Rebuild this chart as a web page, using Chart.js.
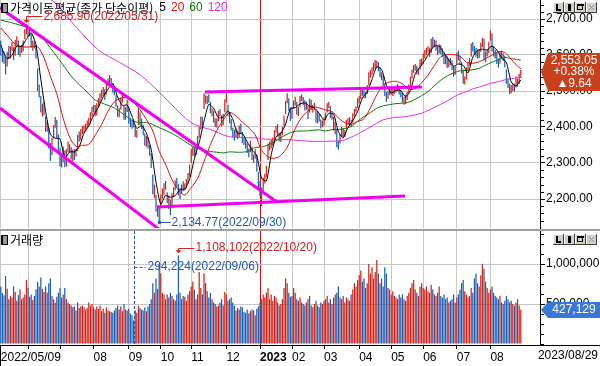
<!DOCTYPE html>
<html lang="ko">
<head>
<meta charset="utf-8">
<title>가격이동평균 / 거래량</title>
<script src="https://cdn.jsdelivr.net/npm/chart.js@4.4.0/dist/chart.umd.min.js"></script>
<style>
  html, body { margin: 0; padding: 0; background: #fff; }
  #wrap { position: relative; width: 600px; height: 366px; overflow: hidden; background: #fff; }
  #price { position: absolute; left: 0; top: 0; }
  #vol { position: absolute; left: 0; top: 231px; }
</style>
</head>
<body>
<div id="wrap">
  <canvas id="price" width="600" height="231"></canvas>
  <canvas id="vol" width="600" height="135"></canvas>
</div>
<script>
// daily bars, 2022/05/09 .. 2023/08/29 (index = trading day)
const closes = [
  2610,2596,2592,2550,2604,2596,2620,2625,2592,2639, 2647,2606,2617,2612,2638,2669,2685,2658,2670,2626,
  2626,2625,2595,2504,2492,2447,2451,2440,2391,2408, 2342,2314,2366,2401,2422,2377,2332,2305,2300,2341,
  2292,2334,2350,2340,2317,2328,2322,2330,2375,2370, 2386,2393,2393,2403,2412,2415,2435,2451,2452,2439,
  2461,2473,2490,2493,2503,2480,2523,2527,2533,2516, 2508,2492,2462,2435,2447,2477,2481,2426,2450,2472,
  2415,2409,2403,2410,2376,2384,2449,2411,2401,2382, 2355,2367,2347,2332,2290,2220,2223,2169,2170,2155,
  2209,2215,2237,2232,2192,2202,2162,2212,2219,2249, 2237,2218,2213,2236,2235,2235,2246,2268,2293,2335,
  2336,2329,2348,2371,2399,2424,2402,2484,2474,2480, 2477,2442,2444,2419,2406,2418,2441,2437,2408,2433,
  2473,2479,2434,2419,2393,2382,2371,2389,2373,2399, 2389,2361,2360,2352,2333,2328,2356,2313,2317,2332,
  2280,2236,2225,2218,2255,2264,2289,2350,2351,2359, 2365,2386,2399,2379,2368,2380,2395,2428,2468,2484,
  2450,2425,2449,2468,2480,2438,2451,2483,2481,2469, 2453,2465,2427,2475,2451,2455,2458,2417,2439,2423,
  2402,2412,2421,2432,2462,2463,2431,2432,2394,2410, 2349,2348,2377,2395,2379,2388,2416,2416,2415,2409,
  2434,2443,2453,2476,2480,2500,2495,2490,2490,2512, 2547,2550,2561,2571,2575,2576,2563,2544,2544,2523,
  2490,2484,2495,2501,2500,2500,2501,2509,2510,2496, 2491,2475,2479,2480,2494,2515,2537,2557,2566,2567,
  2554,2559,2585,2577,2601,2601,2615,2615,2601,2641, 2629,2637,2619,2608,2625,2609,2604,2582,2593,2570,
  2582,2581,2564,2550,2564,2602,2593,2579,2556,2526, 2534,2562,2574,2585,2628,2619,2609,2608,2600,2609,
  2629,2636,2593,2603,2608,2632,2667,2616,2605,2602, 2580,2573,2605,2601,2591,2571,2525,2519,2504,2508,
  2515,2505,2537,2519,2543.41,2553.05
];
const lows = [
  2598,2580,2576,2546,2568,2588,2590,2611,2586,2598, 2628,2600,2595,2606,2610,2644,2657,2650,2652,2620,
  2612,2618,2590,2500,2482,2440,2429,2432,2387,2387, 2340,2306,2322,2368,2398,2368,2326,2291,2288,2303,
  2288,2290,2330,2328,2310,2304,2308,2318,2333,2360, 2364,2380,2384,2388,2396,2405,2410,2430,2441,2430,
  2432,2456,2465,2480,2487,2475,2490,2513,2519,2509, 2495,2488,2456,2428,2427,2448,2468,2420,2420,2442,
  2410,2400,2395,2399,2372,2370,2405,2405,2394,2377, 2348,2345,2340,2320,2286,2213,2202,2165,2151,2134.77,
  2176,2201,2212,2226,2188,2172,2155,2180,2205,2224, 2231,2210,2200,2214,2222,2224,2230,2243,2262,2300,
  2320,2318,2322,2345,2370,2393,2396,2450,2465,2463, 2468,2438,2430,2412,2400,2398,2416,2430,2402,2405,
  2440,2468,2430,2410,2390,2370,2362,2370,2366,2370, 2382,2355,2350,2340,2328,2316,2330,2308,2300,2312,
  2276,2230,2208,2180,2215,2243,2260,2308,2335,2340, 2348,2356,2384,2374,2360,2358,2378,2402,2436,2466,
  2445,2417,2423,2450,2460,2434,2430,2455,2472,2461, 2446,2448,2422,2440,2447,2440,2447,2412,2410,2415,
  2396,2400,2404,2418,2440,2452,2425,2420,2390,2380, 2344,2337,2354,2372,2370,2372,2394,2406,2404,2400,
  2412,2430,2440,2452,2466,2478,2487,2480,2480,2492, 2515,2537,2545,2555,2562,2565,2555,2538,2530,2516,
  2486,2470,2478,2488,2490,2486,2492,2496,2500,2490, 2482,2468,2462,2464,2475,2494,2512,2535,2550,2556,
  2546,2545,2560,2570,2575,2590,2600,2606,2594,2605, 2620,2622,2612,2600,2604,2602,2595,2575,2574,2564,
  2566,2572,2558,2540,2545,2575,2585,2572,2548,2520, 2518,2532,2558,2570,2595,2610,2600,2595,2590,2592,
  2608,2622,2585,2580,2596,2605,2640,2610,2596,2590, 2575,2565,2576,2592,2583,2566,2520,2508,2491,2494,
  2500,2498,2510,2512,2520,2536
];
const highs = [
  2640,2617,2610,2594,2609,2626,2624,2636,2622,2642, 2652,2640,2625,2628,2640,2672,2685.9,2679,2677,2660,
  2640,2638,2627,2563,2518,2487,2465,2471,2430,2415, 2398,2356,2370,2405,2428,2420,2379,2341,2322,2345,
  2335,2338,2360,2352,2344,2337,2339,2340,2378,2387, 2394,2403,2405,2409,2418,2426,2441,2456,2461,2461,
  2466,2480,2494,2503,2511,2505,2526,2535,2544,2536, 2521,2513,2488,2460,2452,2482,2492,2458,2455,2476,
  2454,2425,2418,2421,2404,2392,2452,2441,2424,2406, 2382,2375,2372,2350,2327,2268,2240,2212,2183,2178,
  2212,2229,2244,2250,2219,2209,2198,2216,2232,2252, 2258,2241,2230,2240,2249,2243,2255,2272,2296,2338,
  2345,2345,2353,2375,2402,2429,2428,2494,2488,2486, 2491,2470,2452,2445,2424,2424,2445,2450,2433,2436,
  2477,2494,2462,2440,2422,2398,2392,2396,2390,2404, 2410,2386,2372,2365,2355,2340,2362,2346,2324,2339,
  2324,2275,2250,2232,2260,2270,2293,2354,2360,2364, 2371,2391,2403,2408,2385,2386,2401,2432,2472,2494,
  2480,2455,2454,2474,2484,2470,2456,2486,2490,2483, 2474,2470,2460,2479,2476,2462,2467,2448,2443,2437,
  2421,2418,2427,2440,2466,2470,2458,2440,2428,2414, 2395,2362,2381,2400,2396,2392,2420,2425,2427,2420,
  2438,2450,2457,2480,2486,2504,2508,2502,2497,2517, 2552,2558,2566,2578,2586,2584,2580,2566,2552,2545,
  2520,2497,2500,2508,2512,2506,2511,2515,2520,2514, 2502,2494,2484,2490,2498,2518,2540,2560,2572,2575,
  2570,2564,2588,2590,2604,2614,2620,2625,2620,2645, 2650,2643,2640,2624,2630,2628,2618,2606,2598,2596,
  2590,2592,2585,2570,2568,2606,2612,2598,2580,2560, 2540,2566,2580,2592,2632,2636,2625,2620,2615,2615,
  2634,2648,2645,2610,2616,2637,2668,2660,2624,2614, 2606,2590,2610,2612,2605,2598,2560,2535,2520,2516,
  2523,2520,2540,2534,2548,2558
];
const volumes = [
  720e3,640e3,610e3,850e3,690e3,560e3,600e3,580e3,720e3,650e3,540e3,610e3,680e3,560e3,580e3,620e3,800e3,
  700e3,590e3,620e3,550e3,600e3,680e3,780e3,720e3,830e3,690e3,650e3,720e3,640e3,760e3,820e3,600e3,560e3,520e3,590e3,640e3,
  700e3,580e3,620e3,700e3,560e3,520e3,500e3,480e3,460e3,470e3,420e3,520e3,450e3,470e3,480e3,460e3,430e3,450e3,520e3,480e3,500e3,
  460e3,430e3,470e3,440e3,480e3,410e3,440e3,390e3,460e3,420e3,410e3,400e3,390e3,420e3,450e3,480e3,430e3,470e3,410e3,500e3,430e3,420e3,
  440e3,380e3,360e3,294224,420e3,390e3,480e3,450e3,430e3,420e3,460e3,410e3,470e3,500e3,560e3,760e3,640e3,820e3,690e3,1000e3,
  880e3,640e3,620e3,560e3,620e3,580e3,640e3,600e3,560e3,540e3,620e3,1108102,640e3,560e3,600e3,590e3,540e3,620e3,660e3,
  720e3,780e3,680e3,560e3,620e3,900e3,700e3,620e3,880e3,760e3,660e3,580e3,640e3,560e3,520e3,500e3,470e3,480e3,520e3,560e3,480e3,650e3,
  620e3,540e3,560e3,580e3,520e3,480e3,420e3,450e3,430e3,470e3,460e3,400e3,390e3,430e3,380e3,410e3,430e3,420e3,360e3,440e3,470e3,
  520e3,560e3,620e3,580e3,640e3,700e3,560e3,620e3,540e3,600e3,580e3,520e3,480e3,500e3,560e3,700e3,820e3,760e3,640e3,590e3,
  600e3,700e3,640e3,560e3,540e3,580e3,520e3,500e3,480e3,520e3,560e3,600e3,480e3,460e3,500e3,540e3,480e3,460e3,520e3,500e3,
  540e3,560e3,600e3,520e3,560e3,500e3,580e3,620e3,640e3,720e3,580e3,560e3,600e3,520e3,580e3,560e3,540e3,620e3,680e3,760e3,720e3,800e3,
  860e3,920e3,780e3,820e3,700e3,760e3,1000e3,880e3,960e3,820e3,900e3,1050e3,880e3,760e3,820e3,720e3,960e3,880e3,700e3,680e3,
  620e3,660e3,600e3,580e3,560e3,620e3,580e3,620e3,560e3,540e3,600e3,640e3,700e3,760e3,800e3,680e3,640e3,600e3,720e3,760e3,
  700e3,680e3,720e3,660e3,640e3,740e3,680e3,620e3,600e3,640e3,720e3,600e3,580e3,620e3,560e3,580e3,520e3,540e3,560e3,620e3,520e3,
  580e3,620e3,680e3,760e3,800e3,660e3,620e3,580e3,600e3,700e3,640e3,820e3,880e3,760e3,720e3,860e3,1000e3,940e3,780e3,700e3,640e3,
  680e3,720e3,640e3,600e3,580e3,560e3,600e3,520e3,500e3,540e3,600e3,560e3,520e3,540e3,500e3,480e3,520e3,560e3,480e3,427129
];

// moving averages: [day index, value]
const ma5 = [[0,2628],[2,2605],[4,2590],[7,2599],[10,2625],[13,2624],[16,2644],[19,2662],[22,2628],[25,2533],[28,2444],[31,2379],[34,2369],[37,2367],[40,2314],[43,2331],[46,2331],[49,2345],[52,2383],[55,2403],[58,2433],[61,2455],[64,2484],[67,2505],[70,2521],[73,2483],[76,2460],[79,2461],[82,2430],[85,2396],[88,2404],[91,2383],[94,2338],[97,2247],[100,2185],[103,2210],[106,2205],[109,2209],[112,2227],[115,2227],[118,2255],[121,2312],[124,2357],[127,2416],[130,2463],[133,2452],[136,2426],[139,2427],[142,2445],[145,2421],[148,2382],[151,2382],[154,2359],[157,2336],[160,2320],[163,2258],[166,2250],[169,2323],[172,2372],[175,2382],[178,2408],[181,2451],[184,2454],[187,2464],[190,2467],[193,2458],[196,2453],[199,2438],[202,2419],[205,2438],[208,2436],[211,2387],[214,2370],[217,2399],[220,2418],[223,2443],[226,2481],[229,2497],[232,2532],[235,2567],[238,2560],[241,2517],[244,2494],[247,2502],[250,2501],[253,2484],[256,2501],[259,2548],[262,2566],[265,2585],[268,2607],[271,2625],[274,2624],[277,2606],[280,2586],[283,2569],[286,2575],[289,2571],[292,2550],[295,2594],[298,2613],[301,2616],[304,2614],[307,2625],[310,2614],[313,2592],[316,2579],[319,2525],[322,2514],[325,2531]];
const ma20 = [[0,2675],[4,2655],[9,2630],[14,2622],[19,2623],[23,2623],[27,2592],[31,2541],[35,2492],[39,2424],[43,2372],[47,2346],[51,2349],[55,2352],[59,2377],[63,2407],[67,2444],[71,2470],[75,2480],[79,2482],[83,2468],[87,2448],[91,2421],[95,2389],[99,2333],[103,2296],[107,2254],[111,2225],[115,2211],[119,2232],[123,2257],[127,2304],[131,2351],[135,2390],[139,2419],[143,2440],[147,2431],[151,2413],[155,2398],[159,2378],[163,2335],[167,2317],[171,2313],[175,2321],[179,2344],[183,2386],[187,2420],[191,2441],[195,2455],[199,2453],[203,2447],[207,2443],[211,2425],[215,2412],[219,2408],[223,2415],[227,2423],[231,2453],[235,2490],[239,2516],[243,2525],[247,2527],[251,2520],[255,2505],[259,2507],[263,2523],[267,2544],[271,2571],[275,2595],[279,2601],[283,2601],[287,2597],[291,2580],[295,2577],[299,2581],[303,2590],[307,2600],[311,2609],[315,2607],[319,2588],[323,2569],[325,2562]];
const ma60 = [[0,2697],[12,2683],[20,2669],[26,2647],[33,2608],[39,2572],[45,2536],[54,2497],[59,2475],[63,2467],[67,2460],[71,2453],[75,2441],[79,2428],[83,2416],[87,2412],[91,2413],[95,2407],[99,2398],[103,2391],[107,2382],[111,2372],[115,2360],[119,2349],[123,2341],[127,2335],[131,2332],[135,2330],[139,2328],[143,2331],[147,2330],[151,2330],[155,2333],[159,2343],[163,2344],[167,2350],[171,2359],[175,2370],[179,2380],[183,2387],[187,2389],[191,2389],[195,2391],[199,2392],[203,2389],[207,2393],[211,2393],[215,2396],[219,2401],[223,2416],[227,2429],[231,2440],[235,2452],[239,2459],[243,2462],[247,2465],[251,2466],[255,2469],[259,2477],[263,2487],[267,2498],[271,2515],[275,2530],[279,2542],[283,2550],[287,2556],[291,2557],[295,2559],[299,2563],[303,2572],[307,2580],[311,2587],[315,2593],[319,2590],[323,2587],[325,2586]];
const ma120 = [[15,2790],[25,2768],[34,2745],[46,2683],[61,2614],[74,2580],[87,2545],[99,2497],[112,2439],[119,2412],[123,2404],[127,2398],[131,2393],[135,2386],[139,2378],[143,2373],[147,2371],[151,2371],[155,2370],[159,2370],[163,2367],[167,2366],[171,2366],[175,2365],[179,2365],[183,2364],[187,2362],[191,2361],[195,2360],[199,2360],[203,2360],[207,2361],[211,2361],[215,2364],[219,2372],[223,2380],[227,2390],[231,2400],[235,2411],[239,2420],[243,2424],[247,2427],[251,2428],[255,2430],[259,2434],[263,2438],[267,2446],[271,2454],[275,2463],[279,2472],[283,2483],[287,2492],[291,2498],[295,2506],[299,2511],[303,2517],[307,2522],[311,2526],[315,2531],[319,2534],[323,2537],[325,2539]];

// hand-drawn trend lines (magenta)
const trendUpper = [[-0.5,2731],[172.6,2191.6]];
const trendLower = [[-0.5,2452.8],[99.5,2114]];
const supportLine = [[97.6,2177.8],[252.6,2208.3]];
const resistLine = [[127.6,2497.2],[263.2,2511]];

const monthTicks  = [0,17,37,58,80,100,119,141,162,182,202,224,244,264,285,306];
const monthLabels = ['2022/05/09','','','08','09','10','11','12','2023','02','03','04','05','06','07','08'];
const lastDate = '2023/08/29';
const markDates = {hi: '2022/05/31', lo: '2022/09/30', vmax: '2022/10/20', vmin: '2022/09/06'};
const maNames = ['5','20','60','120'];

Chart.defaults.font.family = '"Liberation Sans", "DejaVu Sans", sans-serif';
Chart.defaults.font.size = 12;
Chart.defaults.color = '#000';

const GRID = '#c8c8c8';
const YEAR_LINE = '#d01010';
const UP_COLOR = '#d0261e';
const DOWN_COLOR = '#1f5fb4';
const TREND = '#f000f0';
const MA_COLORS = ['#000000', '#dd1111', '#0c7c0c', '#e030e0'];
const RED_TXT = '#d02020';
const BLUE_TXT = '#2458b0';
const KR_FONT = '12px "Noto Sans CJK KR", sans-serif';
const NUM_FONT = '12px "Liberation Sans", "DejaVu Sans", sans-serif';
const BAR_W = 1.25;

const X_MIN = -0.5, X_MAX = 337;
const P_MAX = 2700 + 19 / 0.36, P_MIN = P_MAX - 228 / 0.36;
const V_MIN = -12500, V_MAX = 1412500;
const yearStart = monthTicks[monthLabels.indexOf('2023')];

const priceTicks = [];
for (let v = 2140; v <= 2740; v += 20) priceTicks.push(v);
const volTicks = [];
for (let v = 0; v <= 1375000; v += 125000) volTicks.push(v);

const barColors = closes.map((c, i) => (i > 0 && c >= closes[i - 1]) ? UP_COLOR : DOWN_COLOR);

function fmt(v, d) {
  return v.toLocaleString('en-US', {minimumFractionDigits: d, maximumFractionDigits: d});
}
const pts = arr => arr.map(p => ({x: p[0], y: p[1]}));

function lineDs(points, color, width, order, tension) {
  return {type: 'line', data: pts(points), borderColor: color, borderWidth: width,
          pointRadius: 0, tension: tension, order: order, clip: 0, fill: false};
}

function monthAxis(showLabels) {
  return {
    type: 'linear', min: X_MIN, max: X_MAX, offset: false,
    afterBuildTicks: s => { s.ticks = monthTicks.map(v => ({value: v})); },
    afterFit: s => { s.height = showLabels ? 21 : 0; s.paddingLeft = 0; s.paddingRight = 0; },
    border: {display: false},
    grid: {
      offset: false,
      color: c => (c.tick && c.tick.value === yearStart) ? YEAR_LINE : GRID,
      drawTicks: showLabels, tickLength: 4, tickColor: '#000'
    },
    ticks: showLabels ? {
      autoSkip: false, maxRotation: 0, minRotation: 0, align: 'start', padding: 1, color: '#000',
      font: c => ({size: 12, weight: monthLabels[c.index] === '2023' ? 'bold' : 'normal'}),
      callback: (v, i) => monthLabels[i]
    } : {display: false}
  };
}

function valueAxis(min, max, tickVals, isMajor, label) {
  return {
    position: 'right', min: min, max: max,
    afterBuildTicks: s => { s.ticks = tickVals.map(v => ({value: v})); },
    afterFit: s => { s.width = 60; s.paddingTop = 0; s.paddingBottom = 0; },
    border: {display: true, color: '#000', width: 1},
    grid: {
      color: c => isMajor(c.tick.value) ? GRID : 'rgba(0,0,0,0)',
      tickColor: c => isMajor(c.tick.value) ? '#000' : 'rgba(0,0,0,0)',
      tickLength: 5
    },
    ticks: {autoSkip: false, padding: 1, color: '#000', callback: v => isMajor(v) ? label(v) : ''}
  };
}

function seg(ctx, x1, y1, x2, y2) {
  ctx.beginPath(); ctx.moveTo(x1, y1); ctx.lineTo(x2, y2); ctx.stroke();
}

function panelTitle(ctx, text, cy) {
  ctx.fillStyle = '#000'; ctx.fillRect(1, cy - 5, 7, 10);
  ctx.fillStyle = '#9a9a9a'; ctx.fillRect(3, cy - 4, 4, 8);
  ctx.font = KR_FONT; ctx.textBaseline = 'middle'; ctx.textAlign = 'left'; ctx.fillStyle = '#000';
  ctx.fillText(text, 10, cy);
  return 10 + ctx.measureText(text).width;
}

function drawButtons(ctx, top) {
  const xs = [553, 564, 575, 586];
  ctx.lineWidth = 1;
  xs.forEach(bx => {
    ctx.fillStyle = '#d4d0c8'; ctx.fillRect(bx, top, 11, 11);
    ctx.strokeStyle = '#ffffff';
    seg(ctx, bx + 0.5, top + 10, bx + 0.5, top + 0.5); seg(ctx, bx + 0.5, top + 0.5, bx + 10, top + 0.5);
    ctx.strokeStyle = '#404040';
    seg(ctx, bx + 10.5, top, bx + 10.5, top + 11); seg(ctx, bx, top + 10.5, bx + 11, top + 10.5);
  });
  ctx.fillStyle = '#000';
  ctx.fillRect(xs[0] + 3, top + 2, 2, 7); ctx.fillRect(xs[0] + 3, top + 7, 5, 2);
  ctx.fillRect(xs[1] + 4, top + 2, 3, 7);
  ctx.strokeStyle = '#000'; ctx.strokeRect(xs[2] + 2.5, top + 2.5, 5, 5); ctx.fillRect(xs[2] + 2, top + 2, 7, 2);
  ctx.strokeStyle = '#909090';
  seg(ctx, xs[3] + 3, top + 3, xs[3] + 8, top + 8); seg(ctx, xs[3] + 8, top + 3, xs[3] + 3, top + 8);
}

function drawTag(ctx, cy, halfH, color, lines, gap) {
  ctx.fillStyle = color;
  ctx.beginPath();
  ctx.moveTo(541, cy); ctx.lineTo(548, cy - halfH); ctx.lineTo(600, cy - halfH);
  ctx.lineTo(600, cy + halfH); ctx.lineTo(548, cy + halfH); ctx.closePath(); ctx.fill();
  ctx.fillStyle = '#fff'; ctx.font = NUM_FONT; ctx.textAlign = 'center'; ctx.textBaseline = 'middle';
  lines.forEach((t, k) => ctx.fillText(t, 574, cy + (k - (lines.length - 1) / 2) * gap));
}

const priceDecor = {
  id: 'priceDecor',
  afterDraw(chart) {
    const {ctx, scales: {x, y}} = chart;
    ctx.save();
    ctx.lineWidth = 1; ctx.strokeStyle = '#000';
    priceTicks.filter(v => v % 100).forEach(v => {
      const py = Math.round(y.getPixelForValue(v)) + 0.5;
      seg(ctx, 541, py, 544, py);
    });
    ctx.fillStyle = '#a0a0a0'; ctx.fillRect(0, 229, 600, 2);

    // title + MA periods
    let tx = panelTitle(ctx, '가격이동평균(종가 단순이평)', 8) + 6;
    ctx.font = NUM_FONT;
    maNames.forEach((n, k) => {
      ctx.fillStyle = MA_COLORS[k]; ctx.fillText(n, tx, 8);
      tx += ctx.measureText(n).width + 5;
    });

    // highest high
    const hiVal = Math.max(...highs), hiIdx = highs.indexOf(hiVal);
    const hx = Math.round(x.getPixelForValue(hiIdx)) + 0.5, hy = y.getPixelForValue(hiVal);
    ctx.strokeStyle = RED_TXT; ctx.fillStyle = RED_TXT;
    seg(ctx, hx, hy - 3, hx, 16.5);
    seg(ctx, hx, 16.5, hx + 16, 16.5);
    ctx.beginPath(); ctx.moveTo(hx - 3, hy - 4); ctx.lineTo(hx + 3, hy - 4); ctx.lineTo(hx, hy - 1); ctx.closePath(); ctx.fill();
    ctx.textAlign = 'left'; ctx.textBaseline = 'middle';
    ctx.fillText(fmt(hiVal, 2) + '(' + markDates.hi + ')', hx + 17, 17);

    // lowest low
    const loVal = Math.min(...lows), loIdx = lows.indexOf(loVal);
    const lx = Math.round(x.getPixelForValue(loIdx)) + 0.5, ly = y.getPixelForValue(loVal);
    ctx.strokeStyle = BLUE_TXT; ctx.fillStyle = BLUE_TXT;
    ctx.beginPath(); ctx.arc(lx, ly, 1.8, 0, Math.PI * 2); ctx.fill();
    seg(ctx, lx, Math.round(ly) + 0.5, lx + 11, Math.round(ly) + 0.5);
    ctx.fillText(fmt(loVal, 2) + '(' + markDates.lo + ')', lx + 12, ly);

    // last price tag
    const last = closes[closes.length - 1], prev = closes[closes.length - 2];
    const chg = last - prev;
    drawTag(ctx, Math.round(y.getPixelForValue(last)), 19, '#c8401c',
      [fmt(last, 2), (chg >= 0 ? '+' : '') + fmt(chg / prev * 100, 2) + '%', (chg >= 0 ? '▲' : '▼') + fmt(Math.abs(chg), 2)], 11.5);

    drawButtons(ctx, 2);
    ctx.restore();
  }
};

const volDecor = {
  id: 'volDecor',
  afterDraw(chart) {
    const {ctx, scales: {x, y}, chartArea: a} = chart;
    ctx.save();
    ctx.lineWidth = 1; ctx.strokeStyle = '#000';
    volTicks.filter(v => !(v > 0 && v % 500000 === 0)).forEach(v => {
      const py = Math.round(y.getPixelForValue(v)) + 0.5;
      seg(ctx, 541, py, 544, py);
    });
    panelTitle(ctx, '거래량', 9);

    // lowest volume
    const vMin = Math.min(...volumes), vMinIdx = volumes.indexOf(vMin);
    const mx = Math.round(x.getPixelForValue(vMinIdx)) + 0.5;
    ctx.strokeStyle = BLUE_TXT; ctx.fillStyle = BLUE_TXT;
    ctx.setLineDash([3, 2]);
    seg(ctx, mx, a.top, mx, a.bottom);
    seg(ctx, mx, 36.5, mx + 11, 36.5);
    ctx.setLineDash([]);
    ctx.font = NUM_FONT; ctx.textAlign = 'left'; ctx.textBaseline = 'middle';
    ctx.fillText(fmt(vMin, 0) + '(' + markDates.vmin + ')', mx + 13, 36);

    // highest volume
    const vMax = Math.max(...volumes), vMaxIdx = volumes.indexOf(vMax);
    const vx = Math.round(x.getPixelForValue(vMaxIdx)) + 0.5, vy = y.getPixelForValue(vMax);
    ctx.strokeStyle = RED_TXT; ctx.fillStyle = RED_TXT;
    seg(ctx, vx, vy - 4, vx, 17.5); seg(ctx, vx, 17.5, vx + 16, 17.5);
    ctx.beginPath(); ctx.moveTo(vx - 3, vy - 5); ctx.lineTo(vx + 3, vy - 5); ctx.lineTo(vx, vy - 2); ctx.closePath(); ctx.fill();
    ctx.fillText(fmt(vMax, 0) + '(' + markDates.vmax + ')', vx + 17, 17);

    // last volume tag
    const lastVol = volumes[volumes.length - 1];
    drawTag(ctx, Math.round(y.getPixelForValue(lastVol)), 8, '#3a78d8', [fmt(lastVol, 0)], 0);

    drawButtons(ctx, 3);

    // date axis frame
    ctx.strokeStyle = '#000';
    seg(ctx, 0, a.bottom + 0.5, 600, a.bottom + 0.5);
    seg(ctx, 0.5, a.bottom, 0.5, 135);
    ctx.fillStyle = '#000'; ctx.font = NUM_FONT; ctx.textAlign = 'right'; ctx.textBaseline = 'middle';
    ctx.fillText(lastDate, 598, a.bottom + 11);
    ctx.restore();
  }
};

new Chart(document.getElementById('price'), {
  type: 'bar',
  data: {
    datasets: [
      lineDs(trendUpper, TREND, 3, 1, 0),
      lineDs(trendLower, TREND, 3, 1, 0),
      lineDs(supportLine, TREND, 3, 1, 0),
      lineDs(resistLine, TREND, 3, 1, 0),
      lineDs(ma5, MA_COLORS[0], 1, 2, 0.2),
      lineDs(ma20, MA_COLORS[1], 1, 3, 0.3),
      lineDs(ma60, MA_COLORS[2], 1, 4, 0.3),
      lineDs(ma120, MA_COLORS[3], 1, 5, 0.3),
      {type: 'bar', data: lows.map((l, i) => ({x: i, y: [l, highs[i]]})), backgroundColor: barColors,
       barThickness: BAR_W, borderWidth: 0, inflateAmount: 0, order: 10}
    ]
  },
  options: {
    responsive: false, animation: false, events: [],
    layout: {autoPadding: false, padding: {left: 0, right: 0, top: 0, bottom: 3}},
    plugins: {legend: {display: false}, tooltip: {enabled: false}},
    scales: {
      x: monthAxis(false),
      y: valueAxis(P_MIN, P_MAX, priceTicks, v => v % 100 === 0, v => fmt(v, 2))
    }
  },
  plugins: [priceDecor]
});

new Chart(document.getElementById('vol'), {
  type: 'bar',
  data: {
    datasets: [
      {type: 'bar', data: volumes.map((v, i) => ({x: i, y: v})), backgroundColor: barColors,
       barThickness: BAR_W, borderWidth: 0, inflateAmount: 0}
    ]
  },
  options: {
    responsive: false, animation: false, events: [],
    layout: {autoPadding: false, padding: 0},
    plugins: {legend: {display: false}, tooltip: {enabled: false}},
    scales: {
      x: monthAxis(true),
      y: valueAxis(V_MIN, V_MAX, volTicks, v => v > 0 && v % 500000 === 0, v => fmt(v, 0))
    }
  },
  plugins: [volDecor]
});
</script>
</body>
</html>
